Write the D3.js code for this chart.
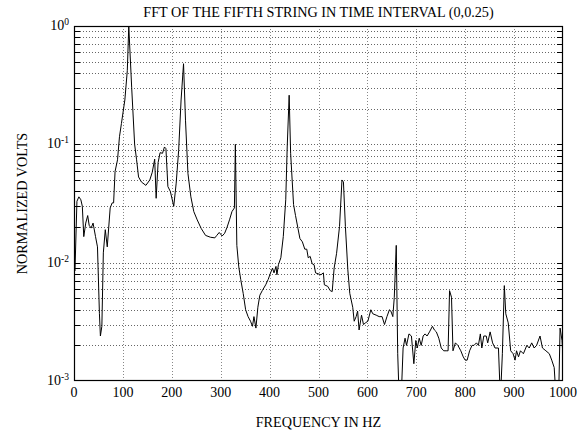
<!DOCTYPE html>
<html>
<head>
<meta charset="utf-8">
<script src="https://cdn.jsdelivr.net/npm/d3@7"></script>
<style>
  body { margin: 0; background: #fff; }
  text { font-family: "Liberation Serif", "DejaVu Serif", serif; fill: #000; }
</style>
</head>
<body>
<svg id="chart"></svg>
<script>
var width = 583, height = 433;
var plotLeft = 74, plotRight = 563, plotTop = 26, plotBottom = 381;

// data: frequency (Hz) and normalized volts
var freq = [2,6,10,14,17,20,24,28,31,35,39,44,48,52,54,57,60,64,68,74,78,81,84,89,93,97,101,104,109,112,118,124,128,132,138,147,155,160,165,168,172,176,181,185,188,192,197,204,209,214,219,224,228,233,239,245,252,260,269,279,288,292,297,303,308,313,318,323,328,330,333,337,341,346,351,356,361,365,368,372,376,380,385,392,397,402,406,409,413,415,418,423,428,433,436,440,443,449,453,458,462,467,472,476,479,483,487,491,494,501,505,510,512,519,524,528,532,537,543,548,551,555,560,564,570,573,577,580,583,588,592,596,601,607,611,618,624,630,635,640,645,648,652,655,659,662,665,669,673,677,680,685,690,695,699,702,706,710,714,718,722,727,733,737,741,746,751,756,761,765,768,772,775,780,785,791,796,800,804,809,814,818,823,827,831,834,838,843,846,851,856,861,868,872,876,880,883,888,893,898,902,905,909,913,919,926,931,936,941,946,953,958,965,972,977,982,986,991,994,998,1000];
var volts = [0.0085,0.033,0.036,0.034,0.030,0.0166,0.0216,0.025,0.0207,0.0196,0.0216,0.0166,0.0136,0.0037,0.0024,0.0029,0.0121,0.019,0.0136,0.029,0.032,0.032,0.059,0.074,0.116,0.15,0.195,0.237,0.42,1.0,0.3,0.1,0.074,0.053,0.048,0.045,0.05,0.058,0.075,0.035,0.07,0.085,0.084,0.095,0.092,0.044,0.04,0.03,0.047,0.089,0.237,0.48,0.16,0.057,0.036,0.027,0.023,0.0195,0.017,0.0164,0.0162,0.017,0.018,0.0168,0.0177,0.0199,0.023,0.027,0.029,0.1,0.014,0.0092,0.0072,0.0055,0.004,0.0035,0.0032,0.0029,0.0035,0.0028,0.0042,0.0053,0.0058,0.0065,0.0072,0.0082,0.009,0.0082,0.0093,0.0079,0.0096,0.011,0.0166,0.034,0.095,0.26,0.084,0.031,0.025,0.0195,0.016,0.015,0.013,0.013,0.011,0.0113,0.0098,0.0096,0.0082,0.008,0.0079,0.0082,0.0065,0.0063,0.0058,0.0057,0.009,0.012,0.0202,0.05,0.048,0.0202,0.0087,0.0055,0.0042,0.0032,0.0035,0.0039,0.0027,0.0036,0.003,0.0031,0.0032,0.004,0.0037,0.0036,0.0035,0.0035,0.003,0.0035,0.004,0.0039,0.0035,0.0051,0.014,0.0017,0.0007,0.0007,0.0019,0.0023,0.002,0.0025,0.0024,0.0014,0.0022,0.0019,0.0023,0.002,0.0024,0.0025,0.0024,0.0026,0.0029,0.0027,0.0026,0.0023,0.0019,0.0018,0.0018,0.0018,0.0058,0.0051,0.0018,0.0021,0.002,0.0018,0.0016,0.0015,0.0015,0.0018,0.002,0.002,0.0021,0.002,0.0025,0.0019,0.0024,0.0024,0.0021,0.0026,0.0021,0.0019,0.0019,0.0007,0.0017,0.0064,0.0037,0.0031,0.0018,0.0017,0.0015,0.0018,0.0016,0.0018,0.0017,0.002,0.0019,0.0021,0.0019,0.002,0.0024,0.0019,0.0018,0.0017,0.0015,0.0013,0.0007,0.0007,0.0028,0.0022,0.0016];

var xTicks = [0,100,200,300,400,500,600,700,800,900,1000];
var yDecades = [-3,-2,-1,0];
var titleText = "FFT OF THE FIFTH STRING IN TIME INTERVAL (0,0.25)";
var xLabel = "FREQUENCY IN HZ";
var yLabel = "NORMALIZED VOLTS";

var svg = d3.select("#chart").attr("width", width).attr("height", height);

var x = d3.scaleLinear().domain([0, 1000]).range([plotLeft, plotRight]);
var y = d3.scaleLog().domain([1e-3, 1]).range([plotBottom, plotTop]);

// minor + major grid positions in y
var yGrid = [];
for (var e = -3; e < 0; e++) {
        for (var m = 1; m < 10; m++) {
                if (e == -3 && m == 1) continue;
                yGrid.push(m * Math.pow(10, e));
        }
}

var grid = svg.append("g").attr("class", "grid");
grid.selectAll(".hgrid").data(yGrid).enter()
        .append("line").attr("class", "hgrid")
        .attr("x1", plotLeft).attr("x2", plotRight)
        .attr("y1", d => Math.round(y(d)) + 0.5).attr("y2", d => Math.round(y(d)) + 0.5)
        .attr("stroke", "#666").attr("stroke-width", 1).attr("stroke-dasharray", "1,2");
grid.selectAll(".vgrid").data(xTicks.slice(1, -1)).enter()
        .append("line").attr("class", "vgrid")
        .attr("x1", d => Math.round(x(d)) + 0.5).attr("x2", d => Math.round(x(d)) + 0.5)
        .attr("y1", plotTop).attr("y2", plotBottom)
        .attr("stroke", "#888").attr("stroke-width", 1).attr("stroke-dasharray", "1,2");

// inward ticks on left and right
var ticks = svg.append("g");
yGrid.forEach(function(d) {
        var yy = Math.round(y(d)) + 0.5;
        ticks.append("line").attr("x1", plotLeft).attr("x2", plotLeft + 6)
                .attr("y1", yy).attr("y2", yy).attr("stroke", "#000");
        ticks.append("line").attr("x1", plotRight - 6).attr("x2", plotRight)
                .attr("y1", yy).attr("y2", yy).attr("stroke", "#000");
});

// line
svg.append("clipPath").attr("id", "plotClip")
        .append("rect").attr("x", plotLeft).attr("y", plotTop)
        .attr("width", plotRight - plotLeft).attr("height", plotBottom - plotTop);

var pts = freq.map((f, i) => ({f: f, v: volts[i]}));
var line = d3.line().x(d => x(d.f)).y(d => y(d.v));
svg.append("path").datum(pts)
        .attr("clip-path", "url(#plotClip)")
        .attr("d", line)
        .attr("fill", "none").attr("stroke", "#000").attr("stroke-width", 1);

// frame
svg.append("rect").attr("x", plotLeft + 0.5).attr("y", plotTop + 0.5)
        .attr("width", plotRight - plotLeft - 1).attr("height", plotBottom - plotTop - 1)
        .attr("fill", "none").attr("stroke", "#000").attr("stroke-width", 1.2);

// x tick labels
svg.selectAll(".xlab").data(xTicks).enter()
        .append("text").attr("class", "xlab")
        .attr("x", d => x(d)).attr("y", plotBottom + 16)
        .attr("text-anchor", "middle").attr("font-size", 14)
        .text(d => d);

// y tick labels 10^n
var ylab = svg.selectAll(".ylab").data(yDecades).enter()
        .append("text").attr("class", "ylab")
        .attr("x", plotLeft - 5).attr("y", d => y(Math.pow(10, d)) + 4)
        .attr("text-anchor", "end").attr("font-size", 14);
ylab.append("tspan").text("10");
ylab.append("tspan").attr("dy", -5).attr("font-size", 9.5).text(d => d);

// titles
svg.append("text").attr("x", (plotLeft + plotRight) / 2).attr("y", 17)
        .attr("text-anchor", "middle").attr("font-size", 14.2).text(titleText);
svg.append("text").attr("x", (plotLeft + plotRight) / 2).attr("y", 427)
        .attr("text-anchor", "middle").attr("font-size", 14.2).text(xLabel);
svg.append("text").attr("transform", "translate(27," + ((plotTop + plotBottom) / 2) + ") rotate(-90)")
        .attr("text-anchor", "middle").attr("font-size", 14.2).text(yLabel);
</script>
</body>
</html>
